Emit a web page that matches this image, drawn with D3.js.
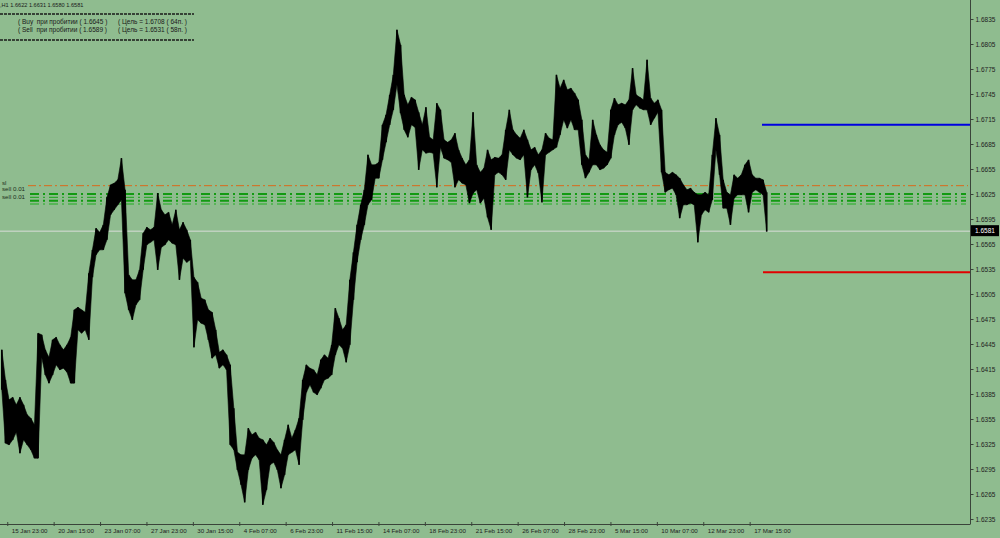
<!DOCTYPE html>
<html><head><meta charset="utf-8">
<script src="https://cdn.jsdelivr.net/npm/d3@7"></script>
<style>
html,body{margin:0;padding:0;background:#8fbc8f;}
svg{display:block;font-family:"Liberation Sans",Arial,sans-serif;}
</style></head>
<body><svg id="c" width="1000" height="538"></svg>
<script>
// ---- data ----
// each column = 5 H1 bars; high / low of the column
const colHigh = [1.6438,1.6402,1.6378,1.6381,1.6372,1.6381,1.6372,1.6360,1.6356,1.6348,
1.6458,1.6456,1.6438,1.6429,1.6450,1.6453,1.6444,1.6438,1.6444,1.6453,
1.6486,1.6489,1.6486,1.6483,1.6530,1.6558,1.6584,1.6579,1.6588,1.6621,
1.6636,1.6638,1.6642,1.6668,1.6630,1.6528,1.6522,1.6522,1.6534,1.6578,
1.6585,1.6582,1.6585,1.6626,1.6606,1.6600,1.6603,1.6588,1.6606,1.6582,
1.6591,1.6582,1.6570,1.6525,1.6519,1.6500,1.6498,1.6486,1.6483,1.6462,
1.6435,1.6438,1.6432,1.6420,1.6368,1.6315,1.6312,1.6312,1.6344,1.6336,
1.6339,1.6332,1.6330,1.6324,1.6332,1.6327,1.6318,1.6312,1.6330,1.6348,
1.6332,1.6342,1.6356,1.6402,1.6420,1.6416,1.6414,1.6408,1.6426,1.6432,
1.6428,1.6444,1.6488,1.6476,1.6462,1.6468,1.6522,1.6555,1.6588,1.6612,
1.6630,1.6672,1.6660,1.6660,1.6663,1.6708,1.6720,1.6744,1.6768,1.6822,
1.6804,1.6744,1.6732,1.6741,1.6738,1.6723,1.6708,1.6729,1.6693,1.6690,
1.6734,1.6726,1.6690,1.6687,1.6690,1.6698,1.6678,1.6668,1.6660,1.6666,
1.6723,1.6660,1.6651,1.6656,1.6678,1.6666,1.6669,1.6668,1.6672,1.6702,
1.6726,1.6702,1.6696,1.6692,1.6702,1.6690,1.6678,1.6681,1.6672,1.6678,
1.6698,1.6692,1.6690,1.6768,1.6752,1.6762,1.6750,1.6752,1.6746,1.6738,
1.6714,1.6672,1.6666,1.6714,1.6696,1.6684,1.6678,1.6675,1.6726,1.6740,
1.6732,1.6734,1.6732,1.6738,1.6776,1.6744,1.6741,1.6738,1.6786,1.6740,
1.6734,1.6738,1.6726,1.6651,1.6648,1.6651,1.6648,1.6644,1.6636,1.6630,
1.6632,1.6627,1.6624,1.6624,1.6627,1.6624,1.6672,1.6716,1.6696,1.6642,
1.6627,1.6624,1.6648,1.6644,1.6648,1.6660,1.6666,1.6648,1.6644,1.6644,
1.6642,1.6627];
const colLow = [1.6390,1.6326,1.6324,1.6330,1.6339,1.6314,1.6330,1.6324,1.6318,1.6308,
1.6308,1.6429,1.6408,1.6398,1.6408,1.6420,1.6414,1.6416,1.6411,1.6398,
1.6398,1.6462,1.6458,1.6462,1.6450,1.6525,1.6552,1.6558,1.6558,1.6570,
1.6600,1.6606,1.6612,1.6618,1.6506,1.6486,1.6474,1.6492,1.6498,1.6534,
1.6564,1.6567,1.6570,1.6534,1.6561,1.6564,1.6570,1.6566,1.6564,1.6522,
1.6548,1.6543,1.6546,1.6441,1.6474,1.6470,1.6468,1.6450,1.6428,1.6432,
1.6416,1.6420,1.6414,1.6324,1.6318,1.6294,1.6276,1.6255,1.6294,1.6308,
1.6312,1.6306,1.6252,1.6270,1.6300,1.6303,1.6294,1.6272,1.6288,1.6312,
1.6315,1.6318,1.6300,1.6354,1.6387,1.6396,1.6387,1.6384,1.6392,1.6402,
1.6404,1.6408,1.6432,1.6444,1.6440,1.6423,1.6444,1.6498,1.6543,1.6570,
1.6588,1.6612,1.6618,1.6644,1.6644,1.6666,1.6687,1.6708,1.6726,1.6756,
1.6722,1.6702,1.6693,1.6708,1.6705,1.6654,1.6678,1.6674,1.6675,1.6674,
1.6633,1.6681,1.6668,1.6666,1.6663,1.6633,1.6642,1.6638,1.6636,1.6614,
1.6626,1.6630,1.6614,1.6620,1.6597,1.6582,1.6648,1.6651,1.6648,1.6642,
1.6678,1.6672,1.6668,1.6666,1.6672,1.6621,1.6654,1.6660,1.6650,1.6615,
1.6672,1.6675,1.6678,1.6681,1.6696,1.6714,1.6704,1.6714,1.6702,1.6702,
1.6660,1.6644,1.6651,1.6660,1.6660,1.6654,1.6656,1.6660,1.6668,1.6696,
1.6708,1.6711,1.6704,1.6684,1.6726,1.6732,1.6728,1.6726,1.6726,1.6708,
1.6716,1.6723,1.6651,1.6627,1.6630,1.6632,1.6624,1.6596,1.6612,1.6612,
1.6614,1.6612,1.6567,1.6600,1.6606,1.6603,1.6618,1.6678,1.6648,1.6608,
1.6608,1.6588,1.6620,1.6624,1.6624,1.6624,1.6603,1.6627,1.6630,1.6627,
1.6624,1.6580];
const barsPerCol = 5;
const totalBars = 1060;

const timeLabels = ["15 Jan 23:00","20 Jan 15:00","23 Jan 07:00","27 Jan 23:00","30 Jan 15:00",
"4 Feb 07:00","6 Feb 23:00","11 Feb 15:00","14 Feb 07:00","18 Feb 23:00","21 Feb 15:00",
"26 Feb 07:00","28 Feb 23:00","5 Mar 15:00","10 Mar 07:00","12 Mar 23:00","17 Mar 15:00"];
const timeLabelBars = [10,74,138,202,266,330,394,458,522,586,650,714,778,842,906,970,1034];

const priceTicks = [1.6235,1.6265,1.6295,1.6325,1.6355,1.6385,1.6415,1.6445,1.6475,1.6505,
1.6535,1.6565,1.6595,1.6625,1.6655,1.6685,1.6715,1.6745,1.6775,1.6805,1.6835];

const bid = 1.6581;
const buyTarget = 1.6708;
const sellTarget = 1.6531;
const slLevel = 1.6635;
const sellLevels = [1.6625, 1.6621, 1.6617, 1.6613];

const headerOHLC = ",H1  1.6622 1.6631 1.6580 1.6581";
const infoLeft = ["( Buy  при пробитии ( 1.6645 )", "( Sell  при пробитии ( 1.6589 )"];
const infoRight = ["( Цель = 1.6708 ( 64п. )", "( Цель = 1.6531 ( 58п. )"];
const levelLabels = ["sl", "sell 0.01", "sell 0.01"];

// ---- drawing ----
const svg = d3.select("#c");
const axisX = 970, axisY = 524;
svg.append("rect").attr("width",1000).attr("height",538).attr("fill","#8fbc8f");

const y = d3.scaleLinear().domain([1.6235, 1.6835]).range([519, 19]);
const x = d3.scaleLinear().domain([0, totalBars]).range([0, 768.5]);

const plot = svg.append("g");

// bid line
plot.append("line").attr("x1",0).attr("x2",axisX).attr("y1",y(bid)+0.5).attr("y2",y(bid)+0.5)
  .attr("stroke","#d8dcd8").attr("stroke-width",1);

// sl line (orange dash-dot)
plot.append("line").attr("x1",28).attr("x2",axisX-2).attr("y1",y(slLevel)).attr("y2",y(slLevel))
  .attr("stroke","#d96a1c").attr("stroke-width",1).attr("stroke-dasharray","8,3,2,3");

// sell levels (green dash-dot)
const greenStyles = [
  {c:"#129a12", w:2}, {c:"#2fa82f", w:1.3}, {c:"#129a12", w:2}, {c:"#45b245", w:1.3}];
sellLevels.forEach((p,i)=>{
  plot.append("line").attr("x1",30).attr("x2",axisX-4).attr("y1",y(p)).attr("y2",y(p))
    .attr("stroke",greenStyles[i].c).attr("stroke-width",greenStyles[i].w)
    .attr("stroke-dasharray","9,4,2,4");
});

// target lines
plot.append("line").attr("x1",762).attr("x2",axisX).attr("y1",y(buyTarget)).attr("y2",y(buyTarget))
  .attr("stroke","#0000e0").attr("stroke-width",2);
plot.append("line").attr("x1",763).attr("x2",axisX).attr("y1",y(sellTarget)).attr("y2",y(sellTarget))
  .attr("stroke","#e00000").attr("stroke-width",2);

// price columns: filled band through column centres + thin bar per column
const cols = colHigh.map((h,i)=>({i, h, l: colLow[i]}));
const cx = d => x(d.i*barsPerCol + barsPerCol/2);
const band = d3.area().x(cx).y0(d => y(d.l)).y1(d => y(d.h)).curve(d3.curveLinear);
plot.append("path").datum(cols).attr("d", band).attr("fill","#000").attr("stroke","#000").attr("stroke-width",0.6);
plot.append("g").selectAll("line").data(cols).join("line")
  .attr("x1", cx).attr("x2", cx)
  .attr("y1", d => y(d.h)).attr("y2", d => y(d.l))
  .attr("stroke","#000").attr("stroke-width",1.6);

// level labels
const lblG = svg.append("g").attr("font-size", "6.2px").attr("fill", "#1c2e1c");
lblG.append("text").attr("x",2).attr("y",184.5).text(levelLabels[0]);
lblG.append("text").attr("x",2).attr("y",190.5).text(levelLabels[1]);
lblG.append("text").attr("x",2).attr("y",198.5).text(levelLabels[2]);

// axes lines
svg.append("line").attr("x1",axisX+0.5).attr("x2",axisX+0.5).attr("y1",0).attr("y2",axisY)
  .attr("stroke","#3a443a").attr("stroke-width",1);
svg.append("line").attr("x1",0).attr("x2",axisX+0.5).attr("y1",axisY+0.5).attr("y2",axisY+0.5)
  .attr("stroke","#3a443a").attr("stroke-width",1);

// right price axis
const ya = svg.append("g").attr("transform",`translate(${axisX+0.5},0)`)
  .call(d3.axisRight(y).tickValues(priceTicks).tickSize(3).tickPadding(2).tickFormat(d3.format(".4f")));
ya.select(".domain").remove();
ya.selectAll("line").attr("stroke","#3a443a");
ya.selectAll("text").attr("font-size","6.5px").attr("fill","#222").attr("font-family","Liberation Sans, Arial, sans-serif");

// bottom time axis
const xa = svg.append("g").attr("transform",`translate(0,${axisY-2})`)
  .call(d3.axisBottom(x).tickValues(timeLabelBars).tickSize(4).tickFormat((d,i)=>timeLabels[i]));
xa.select(".domain").remove();
xa.selectAll("line").attr("stroke","#3a443a");
xa.selectAll("text").attr("font-size","6.2px").attr("fill","#222")
  .attr("font-family","Liberation Sans, Arial, sans-serif")
  .attr("text-anchor","start").attr("dx","4px").attr("dy","0").attr("y",11);

// bid price box
svg.append("rect").attr("x",971).attr("y",y(bid)-5.5).attr("width",28).attr("height",11).attr("fill","#000");
svg.append("text").attr("x",975).attr("y",y(bid)+2.3).attr("font-size","6.5px").attr("fill","#fff")
  .text(d3.format(".4f")(bid));

// header
const hd = svg.append("g").attr("fill","#1a1a1a");
hd.append("text").attr("x",0).attr("y",7).attr("font-size","5.6px").text(headerOHLC);
[14, 40].forEach(yy => {
  hd.append("line").attr("x1",0).attr("x2",194).attr("y1",yy).attr("y2",yy)
    .attr("stroke","#1a1a1a").attr("stroke-width",1.4).attr("stroke-dasharray","3,1");
});
infoLeft.forEach((t,i)=>{
  hd.append("text").attr("x",18).attr("y",23.5+i*8.5).attr("font-size","6.5px").attr("xml:space","preserve").text(t);
  hd.append("text").attr("x",118).attr("y",23.5+i*8.5).attr("font-size","6.5px").text(infoRight[i]);
});
</script></body></html>
